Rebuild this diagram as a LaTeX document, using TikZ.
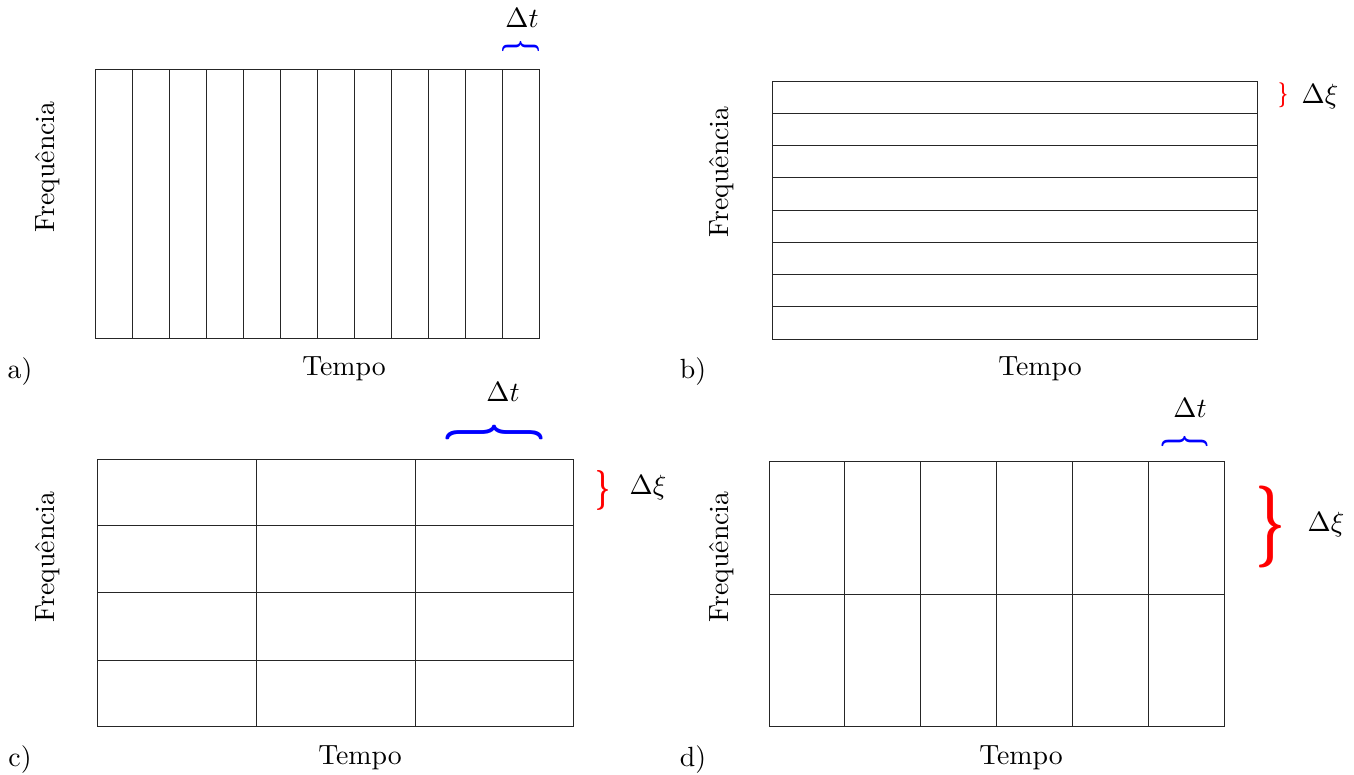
\documentclass[tikz,border=0pt]{standalone}
\usepackage{graphicx}
\newdimen\pxu \pxu=0.36pt
\newcommand{\brc}[2]{\resizebox*{#1\pxu}{#2\pxu}{\boldmath$\}$}}
\begin{document}
\begin{tikzpicture}[x=0.36pt,y=-0.36pt,
  grid/.style={line width=0.3pt,draw=black!85},
  lbl/.style={inner sep=0pt,font=\normalsize},
  ylab/.style={inner sep=0pt,rotate=90},
  brcnode/.style={inner sep=0pt,outer sep=0pt}]
\useasboundingbox (0,0) rectangle (1354,774);
% ---- panel a
\draw[grid] (95,69) rectangle (539,338);
\foreach \i in {1,...,11} \draw[grid] (95+37*\i,69) -- (95+37*\i,338);
\node[brcnode,blue,rotate=90] (ba) at (520.5,46) {\brc{14}{37}};
\node[lbl] (dta) at (522,18) {$\Delta t$};
\node[ylab] (fa) at (48,167) {Frequência};
\node[lbl] (ta) at (344,369) {Tempo};
\node[lbl] (la) at (20,372) {a)};
% ---- panel b
\draw[grid] (772,81) rectangle (1257,339);
\foreach \i in {1,...,7} \draw[grid] (772,81+32.25*\i) -- (1257,81+32.25*\i);
\node[brcnode,red] (bb) at (1283,95) {\brc{10}{25}};
\node[lbl] (dxb) at (1320,97) {$\Delta\xi$};
\node[ylab] (fb) at (722,172) {Frequência};
\node[lbl] (tb) at (1040,369) {Tempo};
\node[lbl] (lb) at (693,372) {b)};
% ---- panel c
\draw[grid] (97,459) rectangle (573,726);
\foreach \xx in {256,415} \draw[grid] (\xx,459) -- (\xx,726);
\foreach \yy in {525,592,660} \draw[grid] (97,\yy) -- (573,\yy);
\node[brcnode,blue,rotate=90] (bc) at (494,432) {\brc{20}{97}};
\node[lbl] (dtc) at (503,392) {$\Delta t$};
\node[brcnode,red] (bcr) at (603,490) {\brc{15}{40}};
\node[lbl] (dxc) at (648,488) {$\Delta\xi$};
\node[ylab] (fc) at (48,557) {Frequência};
\node[lbl] (tc) at (360,758) {Tempo};
\node[lbl] (lc) at (20,760) {c)};
% ---- panel d
\draw[grid] (769,461) rectangle (1224,726);
\foreach \i in {1,...,5} \draw[grid] (769+75.83*\i,461) -- (769+75.83*\i,726);
\draw[grid] (769,594) -- (1224,594);
\node[brcnode,blue,rotate=90] (bd) at (1184.5,441) {\brc{14}{46}};
\node[lbl] (dtd) at (1190,408) {$\Delta t$};
\node[brcnode,red] (bdr) at (1270,527) {\brc{30}{82}};
\node[lbl] (dxd) at (1326,525) {$\Delta\xi$};
\node[ylab] (fd) at (722,557) {Frequência};
\node[lbl] (td) at (1021,758) {Tempo};
\node[lbl] (ld) at (693,760) {d)};
\end{tikzpicture}
\end{document}
